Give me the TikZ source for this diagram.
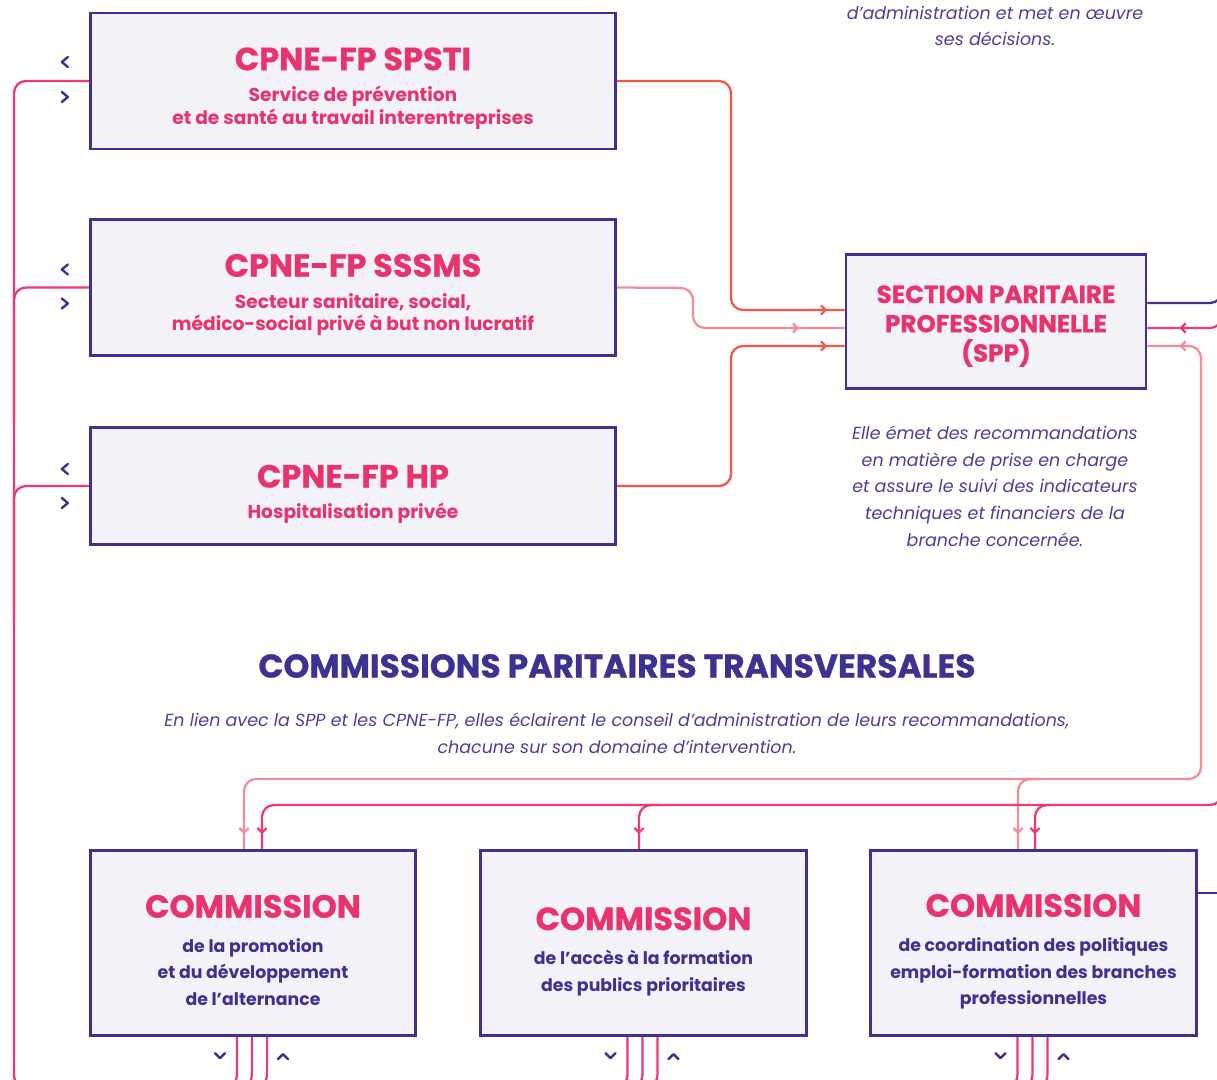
\documentclass[tikz,border=0pt]{standalone}
\usepackage{fontspec}
\setmainfont{Poppins}
\newfontfamily\lourd{Poppins}[BoldFeatures={FakeBold=0.8}]
\usetikzlibrary{arrows.meta,decorations.markings}
\definecolor{navy}{HTML}{3D3291}
\definecolor{rose}{HTML}{E8336D}
\definecolor{corail}{HTML}{F0584A}
\definecolor{rosepale}{HTML}{F48C9B}
\definecolor{framboise}{HTML}{EE3A6C}
\definecolor{fond}{HTML}{F3F2F8}
\definecolor{violet}{HTML}{4A3F9E}
\newcommand\grostitre{\lourd\bfseries\fontsize{24}{28}\selectfont}
\newcommand\moyentitre{\lourd\bfseries\fontsize{18.5}{22}\selectfont}

\begin{document}
\begin{tikzpicture}[x=0.75pt,y=-0.75pt,
  boite/.style={draw=navy, line width=2.2pt, fill=fond},
  cpne/.style={boite, minimum width=394pt, minimum height=102pt},
  commission/.style={boite, minimum width=244pt, minimum height=139pt},
  cpnetexte/.style={align=center, text=rose, font=\fontsize{14}{17}\selectfont\bfseries},
  comtexte/.style={align=center, text=navy, font=\fontsize{13}{20}\selectfont\bfseries},
  note/.style={align=center, text=violet, font=\fontsize{13.1}{20}\selectfont\itshape},
  lien/.style={line width=1.7pt, rounded corners=9pt},
  fin/.style={postaction={decorate, decoration={markings, mark=at position #1 with {\arrow{Straight Barb[length=3.5pt,width=7pt]}}}}},
  debut/.style={postaction={decorate, decoration={markings, mark=at position #1 with {\arrowreversed{Straight Barb[length=3.5pt,width=7pt]}}}}},
  chevron/.style={draw=navy, line width=1.8pt, line cap=round, line join=round}]
\path[fill=white] (0,0) rectangle (1217,1080);
\useasboundingbox (0,0) rectangle (1217,1080);

\node[cpne] (spsti) at (353,81) {};
\node[cpnetexte] (spsti-t) at ([yshift=-5.5pt]spsti.center) {{\grostitre CPNE-FP SPSTI}\\[6.5pt]Service de prévention\\et de santé au travail interentreprises};
\node[cpne] (sssms) at (353,287.5) {};
\node[cpnetexte] (sssms-t) at ([yshift=-5.5pt]sssms.center) {{\grostitre CPNE-FP SSSMS}\\[6.5pt]Secteur sanitaire, social,\\médico-social privé à but non lucratif};
\node[cpne, minimum height=88pt] (hp) at (353,486) {};
\node[cpnetexte] (hp-t) at ([yshift=-6pt]hp.center) {{\grostitre CPNE-FP HP}\\[6pt]Hospitalisation privée};

\node[boite, minimum width=225pt, minimum height=101pt] (spp) at (996,321.5) {};
\node[align=center, text=rose, font=\moyentitre] (spp-t) at ([yshift=-3.5pt]spp.center) {SECTION PARITAIRE\\PROFESSIONNELLE\\(SPP)};

\node[note] (admin) at (995,26) {d’administration et met en œuvre\\ses décisions.};
\node[note] (role) at (995,486) {Elle émet des recommandations\\en matière de prise en charge\\et assure le suivi des indicateurs\\techniques et financiers de la\\branche concernée.};

\node[text=navy, font=\lourd\bfseries\fontsize{24.7}{28}\selectfont] (transv) at (617,666) {COMMISSIONS PARITAIRES TRANSVERSALES};
\node[note] (lienspp) at (617,733) {En lien avec la SPP et les CPNE-FP, elles éclairent le conseil d’administration de leurs recommandations,\\chacune sur son domaine d’intervention.};

\node[commission] (alternance) at (253,943) {};
\node[comtexte] (alternance-t) at ([yshift=-5.5pt]alternance.center) {{\grostitre\color{rose}COMMISSION}\\[6pt]de la promotion\\et du développement\\de l’alternance};
\node[commission] (publics) at (643.5,943) {};
\node[comtexte] (publics-t) at ([yshift=-6.5pt]publics.center) {{\grostitre\color{rose}COMMISSION}\\[6pt]de l’accès à la formation\\des publics prioritaires};
\node[commission] (emploi) at (1033.5,943) {};
\node[comtexte] (emploi-t) at ([yshift=-6.5pt]emploi.center) {{\grostitre\color{rose}COMMISSION}\\[6pt]de coordination des politiques\\emploi-formation des branches\\professionnelles};

\draw[lien, corail, fin=-13pt] (spsti.east) -- (731,81) |- (spp.west |- 0,310);
\draw[lien, rosepale, fin=-34pt] (sssms.east) -- (693,288) |- (spp.west |- 0,328);
\draw[lien, corail, fin=-13pt] (hp.east) -- (731,486) |- (spp.west |- 0,346);

\draw[lien, framboise] (spsti.west) -| (14,1088) -- (60,1088);
\draw[lien, framboise] (sssms.west) -| (14,420);
\draw[lien, framboise] (hp.west) -| (14,620);
\foreach \b/\h/\l in {spsti/-24/11, sssms/-23/11, hp/-22/12} {
  \draw[chevron] ([shift={(-21,\h)}]\b.west) -- ++(-6,5) -- ++(6,5);
  \draw[chevron] ([shift={(-27,\l)}]\b.west) -- ++(6,5) -- ++(-6,5);
}

\draw[lien, navy] (spp.east |- 0,303) -| (1222,200);
\draw[lien, framboise, fin=-24pt] (1222,100) |- (spp.east |- 0,328);
\draw[lien, rosepale, debut=24pt, fin=-11pt] (spp.east |- 0,346) -| (1201,779) -| ([shift={(-9,0)}]alternance.north);
\draw[lien, rosepale, fin=-11pt] (1040,779) -| ([shift={(-15.5,0)}]emploi.north);
\draw[lien, framboise, fin=-11pt] (1222,780) -- (1222,805) -| ([shift={(9,0)}]alternance.north);
\draw[lien, framboise, fin=-11pt] (660,805) -| ([shift={(-4.5,0)}]publics.north);
\draw[lien, framboise, fin=-11pt] (1050,805) -| ([shift={(1.5,0)}]emploi.north);
\draw[lien, navy] (emploi.east |- 0,893) -- (1222,893);

\foreach \c in {alternance, publics, emploi} {
  \foreach \dx in {-16,-1,14}
    \draw[lien, framboise] ([shift={(\dx,0)}]\c.south) |- ++(-30,50);
  \draw[chevron] ([shift={(-38,16)}]\c.south) -- ++(5,5) -- ++(5,-5);
  \draw[chevron] ([shift={(25,22)}]\c.south) -- ++(5,-5) -- ++(5,5);
}
\end{tikzpicture}
\end{document}
